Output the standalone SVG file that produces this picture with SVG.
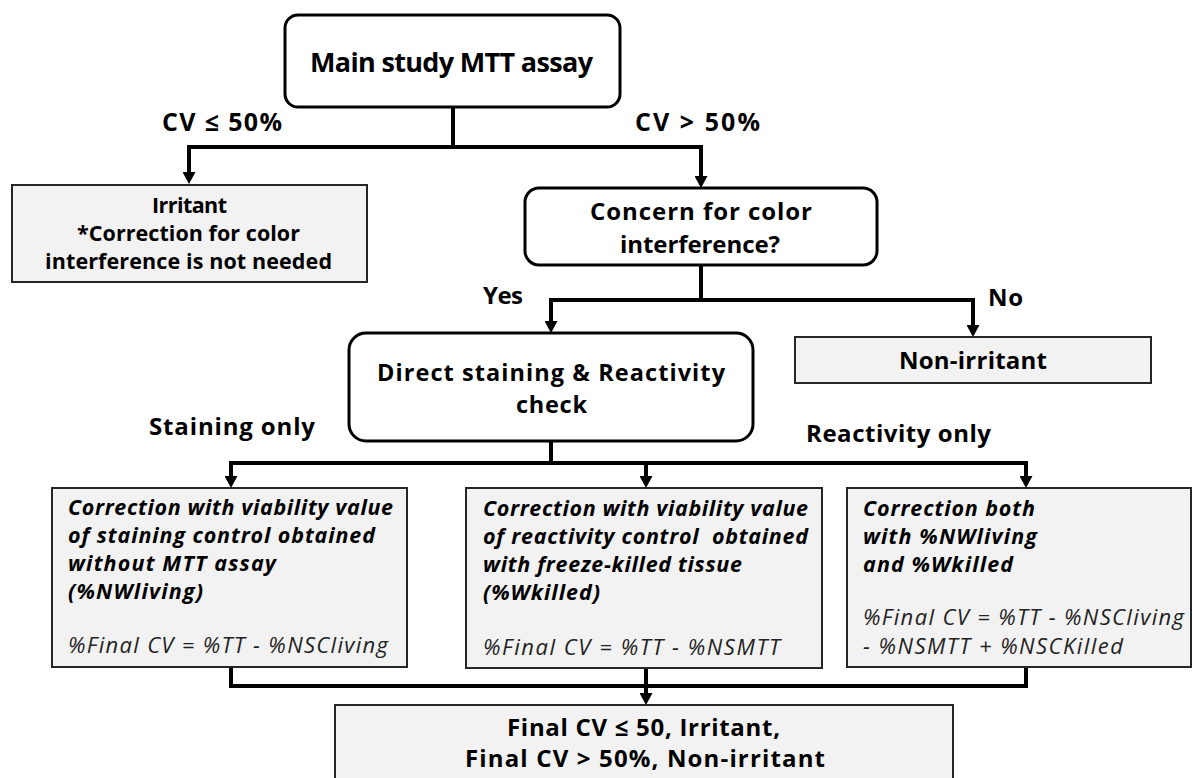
<svg xmlns="http://www.w3.org/2000/svg" width="1192" height="778" viewBox="0 0 1192 778">
<style>
.rbox{fill:#ffffff;stroke:#000;stroke-width:3}
.gbox{fill:#f2f2f2;stroke:#262626;stroke-width:2}
.t{font-family:"Open Sans","Liberation Sans",sans-serif;font-weight:700;fill:#000}
.bi{font-family:"Open Sans","Liberation Sans",sans-serif;font-weight:700;font-style:italic;font-size:21.5px;fill:#000}
.fi{font-family:"Open Sans","Liberation Sans",sans-serif;font-weight:400;font-style:italic;font-size:22px;fill:#222}
.c{fill:none;stroke:#000;stroke-width:4;stroke-linejoin:miter}
</style>
<defs>
<marker id="ah" markerUnits="userSpaceOnUse" markerWidth="12" markerHeight="13" refX="0" refY="6.5" orient="auto">
<path d="M0,0 L12,6.5 L0,13 z" fill="#000"/>
</marker>
</defs>
<rect width="1192" height="778" fill="#fff"/>
<g id="connectors">
<path class="c" d="M453,107 V147 H189 V172" marker-end="url(#ah)"/>
<path class="c" d="M453,147 H701 V176" marker-end="url(#ah)"/>
<path class="c" d="M701,265 V300 H551 V321" marker-end="url(#ah)"/>
<path class="c" d="M701,300 H973 V325" marker-end="url(#ah)"/>
<path class="c" d="M551,441 V463 H231 V476" marker-end="url(#ah)"/>
<path class="c" d="M551,463 H646 V476" marker-end="url(#ah)"/>
<path class="c" d="M646,463 H1026 V476" marker-end="url(#ah)"/>
<path class="c" d="M231,667 V686 H646 V693" marker-end="url(#ah)"/>
<path class="c" d="M1026,667 V686 H646"/>
<path class="c" d="M646,668 V693"/>
</g>
<g id="labels">
<text class="t" font-size="25" x="162" y="131" textLength="120">CV ≤ 50%</text>
<text class="t" font-size="25" x="635" y="131" textLength="125">CV &gt; 50%</text>
<text class="t" font-size="24" x="483" y="304" textLength="40">Yes</text>
<text class="t" font-size="24" x="988" y="306" textLength="35">No</text>
<text class="t" font-size="24" x="149" y="435" textLength="166">Staining only</text>
<text class="t" font-size="24" x="806" y="442" textLength="185">Reactivity only</text>
</g>
<g id="main">
<rect class="rbox" x="285" y="15" width="335" height="92" rx="13"/>
<text class="t" font-size="27" x="310" y="72" textLength="283">Main study MTT assay</text>
</g>
<g id="irritant">
<rect class="gbox" x="12" y="185" width="355" height="97"/>
<text class="t" font-size="21.5"><tspan x="152" y="213" textLength="75">Irritant</tspan><tspan x="77" y="241" textLength="223">*Correction for color</tspan><tspan x="45" y="269" textLength="287">interference is not needed</tspan></text>
</g>
<g id="concern">
<rect class="rbox" x="525" y="188" width="352" height="77" rx="14"/>
<text class="t" font-size="24"><tspan x="590" y="220" textLength="222">Concern for color</tspan><tspan x="620" y="253" textLength="160">interference?</tspan></text>
</g>
<g id="nonirritant">
<rect class="gbox" x="795" y="337" width="356" height="46"/>
<text class="t" font-size="24" x="899" y="369" textLength="148">Non-irritant</text>
</g>
<g id="direct">
<rect class="rbox" x="349" y="333" width="404" height="108" rx="17"/>
<text class="t" font-size="23.5"><tspan x="377" y="381" textLength="348">Direct staining &amp; Reactivity</tspan><tspan x="516" y="413" textLength="71">check</tspan></text>
</g>
<g id="staining">
<rect class="gbox" x="52" y="488" width="355" height="179"/>
<text class="bi"><tspan x="68" y="515" textLength="325">Correction with viability value</tspan><tspan x="68" y="543" textLength="307">of staining control obtained</tspan><tspan x="68" y="571" textLength="208">without MTT assay</tspan><tspan x="68" y="599" textLength="135">(%NWliving)</tspan></text>
<text class="fi" x="68" y="653" textLength="320">%Final CV = %TT - %NSCliving</text>
</g>
<g id="reactivity">
<rect class="gbox" x="466" y="488" width="356" height="180"/>
<text class="bi" xml:space="preserve"><tspan x="483" y="516" textLength="325">Correction with viability value</tspan><tspan x="483" y="544" textLength="325">of reactivity control  obtained</tspan><tspan x="483" y="572" textLength="259">with freeze-killed tissue</tspan><tspan x="483" y="600" textLength="117">(%Wkilled)</tspan></text>
<text class="fi" x="483" y="655" textLength="297">%Final CV = %TT - %NSMTT</text>
</g>
<g id="both">
<rect class="gbox" x="847" y="488" width="344" height="179"/>
<text class="bi"><tspan x="863" y="516" textLength="172">Correction both</tspan><tspan x="863" y="544" textLength="174">with %NWliving</tspan><tspan x="863" y="572" textLength="150">and %Wkilled</tspan></text>
<text class="fi"><tspan x="863" y="625" textLength="321">%Final CV = %TT - %NSCliving</tspan><tspan x="863" y="654" textLength="260">- %NSMTT + %NSCKilled</tspan></text>
</g>
<g id="final">
<rect class="gbox" x="335" y="705" width="618" height="80"/>
<text class="t" font-size="24"><tspan x="507" y="736" textLength="273">Final CV ≤ 50, Irritant,</tspan><tspan x="465" y="767" textLength="360">Final CV &gt; 50%, Non-irritant</tspan></text>
</g>
</svg>
